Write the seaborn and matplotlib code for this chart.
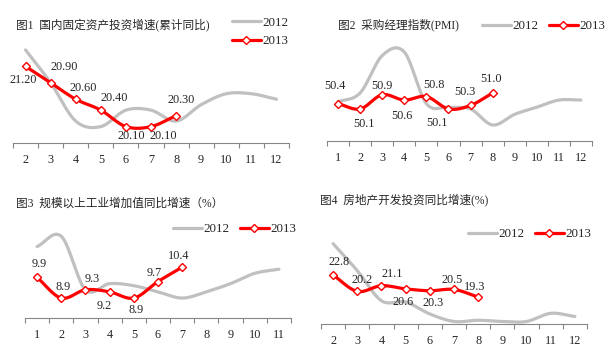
import numpy as np
import matplotlib
matplotlib.use('Agg')
import matplotlib.pyplot as plt
import seaborn as sns
from matplotlib.lines import Line2D
from matplotlib.ticker import FixedLocator

# ---- data ----
months1 = [2, 3, 4, 5, 6, 7, 8, 9, 10, 11, 12]
fai_2012 = [21.5, 20.9, 20.2, 20.1, 20.4, 20.4, 20.2, 20.5, 20.7, 20.7, 20.6]
fai_2013 = [21.2, 20.9, 20.6, 20.4, 20.1, 20.1, 20.3]

months2 = [1, 2, 3, 4, 5, 6, 7, 8, 9, 10, 11, 12]
pmi_2012 = [50.5, 51.0, 53.1, 53.3, 50.4, 50.2, 50.1, 49.2, 49.8, 50.2, 50.6, 50.6]
pmi_2013 = [50.4, 50.1, 50.9, 50.6, 50.8, 50.1, 50.3, 51.0]

months3 = [1, 2, 3, 4, 5, 6, 7, 8, 9, 10, 11]
ind_2012 = [11.4, 11.9, 9.3, 9.6, 9.5, 9.2, 8.9, 9.2, 9.6, 10.1, 10.3]
ind_2013 = [9.9, 8.9, 9.3, 9.2, 8.9, 9.7, 10.4]

months4 = [2, 3, 4, 5, 6, 7, 8, 9, 10, 11, 12]
re_2012 = [27.8, 23.5, 18.7, 18.5, 16.6, 15.4, 15.6, 15.4, 15.4, 16.7, 16.2]
re_2013 = [22.8, 20.2, 21.1, 20.6, 20.3, 20.5, 19.3]

sns.set_style('white')
plt.rcParams['font.family'] = ['Liberation Serif', 'Noto Sans CJK SC', 'DejaVu Sans']

GRAY = '#C0C0C0'
RED = '#FF0000'
W, H = 610, 363
FS = 8.8


def smooth(x, y, n=20):
    # Excel style smoothed line (Catmull-Rom through the points)
    x = np.asarray(x, float)
    y = np.asarray(y, float)
    px = np.concatenate([[2 * x[0] - x[1]], x, [2 * x[-1] - x[-2]]])
    py = np.concatenate([[2 * y[0] - y[1]], y, [2 * y[-1] - y[-2]]])
    xs, ys = [], []
    t = np.linspace(0, 1, n, endpoint=False)
    for i in range(1, len(px) - 2):
        for arr, out in ((px, xs), (py, ys)):
            p0, p1, p2, p3 = arr[i - 1], arr[i], arr[i + 1], arr[i + 2]
            out.extend(0.5 * (2 * p1 + (-p0 + p2) * t
                              + (2 * p0 - 5 * p1 + 4 * p2 - p3) * t ** 2
                              + (-p0 + 3 * p1 - 3 * p2 + p3) * t ** 3))
    xs.append(x[-1])
    ys.append(y[-1])
    return np.array(xs), np.array(ys)


def panel(box, months, s12, s13, ylim, offsets, fmt):
    l, t, r, b = box
    ax = fig.add_axes([l / W, 1 - b / H, (r - l) / W, (b - t) / H])
    x12, y12 = smooth(months, s12)
    sns.lineplot(x=x12, y=y12, ax=ax, color=GRAY, linewidth=2.3, sort=False)
    m13 = months[:len(s13)]
    x13, y13 = smooth(m13, s13)
    sns.lineplot(x=x13, y=y13, ax=ax, color=RED, linewidth=2.3, sort=False)
    ax.plot(m13, s13, linestyle='none', marker='D', markersize=3.8,
            markerfacecolor='white', markeredgecolor=RED, markeredgewidth=1)
    for xv, yv, (dx, dy) in zip(m13, s13, offsets):
        ax.annotate(fmt.format(yv), (xv, yv), xytext=(dx, -dy),
                    textcoords='offset pixels', ha='center', va='center',
                    fontsize=FS)
    ax.set_xlim(months[0] - 0.5, months[-1] + 0.5)
    ax.set_ylim(*ylim)
    ax.set_yticks([])
    ax.xaxis.set_major_locator(FixedLocator(months))
    ax.set_xticklabels([str(m) for m in months], fontsize=FS)
    ax.xaxis.set_minor_locator(FixedLocator(np.arange(months[0] - 0.5, months[-1] + 1, 1)))
    ax.tick_params(axis='x', which='major', length=0, pad=8)
    ax.tick_params(axis='x', which='minor', length=3.5, width=0.8,
                   color='#868686', direction='out', bottom=True)
    for s in ('top', 'left', 'right'):
        ax.spines[s].set_visible(False)
    ax.spines['bottom'].set_color('#868686')
    ax.spines['bottom'].set_linewidth(0.8)
    ax.patch.set_alpha(0)
    return ax


def legend(ax, x, y, ncol):
    handles = [Line2D([], [], color=GRAY, linewidth=2.3),
               Line2D([], [], color=RED, linewidth=2.3, marker='D', markersize=3.8,
                      markerfacecolor='white', markeredgecolor=RED, markeredgewidth=1)]
    ax.legend(handles, ['2012', '2013'], loc='center left',
              bbox_to_anchor=(x / W, 1 - y / H), bbox_transform=fig.transFigure,
              frameon=False, ncol=ncol, fontsize=9.4, handlelength=2.2,
              handletextpad=0.15, columnspacing=0.8, labelspacing=0.5,
              borderpad=0, borderaxespad=0)


fig = plt.figure(figsize=(6.1, 3.63), dpi=100)

ax1 = panel((13, 39, 289, 143), months1, fai_2012, fai_2013, (19.8, 21.7),
            [(-2, 14), (14, -16), (7, -11), (13, -12), (5, 9), (12, 9), (5, -16)],
            '{:.2f}')
fig.text(16 / W, 1 - 25 / H, '图1  国内固定资产投资增速(累计同比)', fontsize=8.4, va='center')
legend(ax1, 232, 32, 1)

ax2 = panel((327, 36, 592, 141), months2, pmi_2012, pmi_2013, (48.3, 54.2),
            [(-3, -18), (4, 15), (0, -9), (-2, 16), (8, -12), (-11, 14), (-6, -13), (-2, -14)],
            '{:.1f}')
fig.text(338 / W, 1 - 25 / H, '图2  采购经理指数(PMI)', fontsize=8.4, va='center')
legend(ax2, 482, 26, 2)

ax3 = panel((25, 226, 291, 318), months3, ind_2012, ind_2013, (7.93, 12.4),
            [(2, -13), (2, -11), (7, -11), (-5, 14), (2, 12), (-4, -9), (-4, -11)],
            '{:.1f}')
fig.text(16 / W, 1 - 204 / H, '图3  规模以上工业增加值同比增速（%）', fontsize=8.4, va='center')
legend(ax3, 173, 229, 2)

ax4 = panel((321, 233, 587, 324), months4, re_2012, re_2013, (15.0, 29.5),
            [(6, -13), (5, -11), (11, -12), (-3, 13), (3, 12), (-2, -9), (-4, -10)],
            '{:.1f}')
fig.text(320 / W, 1 - 200 / H, '图4  房地产开发投资同比增速(%)', fontsize=8.4, va='center')
legend(ax4, 468, 234, 2)

fig.savefig('out.png', dpi=100)
